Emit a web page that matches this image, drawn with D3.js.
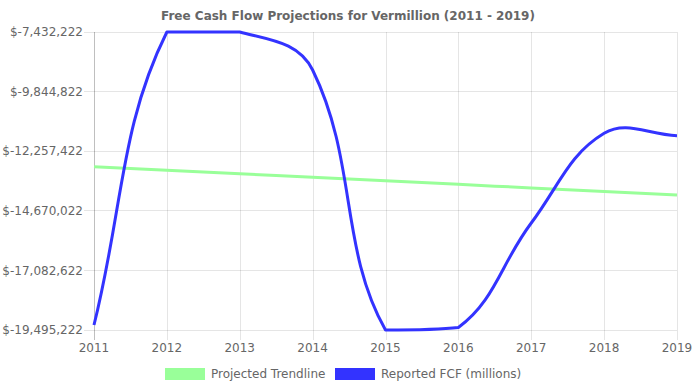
<!DOCTYPE html>
<html>
<head>
<meta charset="utf-8">
<script src="https://cdn.jsdelivr.net/npm/d3@7"></script>
<style>
  html, body { margin: 0; padding: 0; background: #fff; }
  svg { display: block; }
  text { font-family: "DejaVu Sans", sans-serif; }
</style>
</head>
<body>
<svg id="chart" width="696" height="390"></svg>
<script>
const years = ["2011","2012","2013","2014","2015","2016","2017","2018","2019"];
const reportedFCF = [-19292800, -7432222, -7432222, -8970500, -19495222, -19394000, -15164000, -11533000, -11630000];
const projectedTrend = [-12885000, -13028000, -13171000, -13314000, -13457000, -13600000, -13743000, -13886000, -14030000];
const yTicks = [-7432222, -9844822, -12257422, -14670022, -17082622, -19495222];
const titleText = "Free Cash Flow Projections for Vermillion (2011 - 2019)";
const seriesNames = ["Projected Trendline", "Reported FCF (millions)"];
const seriesColors = ["#99ff99", "#3333ff"];

const area = { left: 94, right: 677, top: 32, bottom: 330 };
const svg = d3.select("#chart");

const x = d3.scalePoint().domain(years).range([area.left, area.right]);
const y = d3.scaleLinear().domain([d3.min(yTicks), d3.max(yTicks)]).range([area.bottom, area.top]);

const locale = d3.formatLocale({ decimal: ".", thousands: ",", grouping: [3], currency: ["$", ""], minus: "-" });
const fmt = v => "$" + locale.format(",")(v);

// Chart.js-style spline with tension and capped control points
function splineCurve(t, a) {
  return function(context) {
    let pts;
    const cap = (px, py) => [Math.max(a.left, Math.min(a.right, px)), Math.max(a.top, Math.min(a.bottom, py))];
    return {
      areaStart() {}, areaEnd() {},
      lineStart() { pts = []; },
      point(px, py) { pts.push([+px, +py]); },
      lineEnd() {
        const n = pts.length;
        if (!n) return;
        const cps = pts.map((p, i) => {
          const prev = pts[i - 1] || p, next = pts[i + 1] || p;
          const d01 = Math.hypot(p[0] - prev[0], p[1] - prev[1]);
          const d12 = Math.hypot(next[0] - p[0], next[1] - p[1]);
          let s01 = d01 / (d01 + d12), s12 = d12 / (d01 + d12);
          if (isNaN(s01)) s01 = 0;
          if (isNaN(s12)) s12 = 0;
          const fa = t * s01, fb = t * s12;
          return {
            prev: cap(p[0] - fa * (next[0] - prev[0]), p[1] - fa * (next[1] - prev[1])),
            next: cap(p[0] + fb * (next[0] - prev[0]), p[1] + fb * (next[1] - prev[1]))
          };
        });
        context.moveTo(pts[0][0], pts[0][1]);
        for (let i = 1; i < n; i++) {
          context.bezierCurveTo(cps[i - 1].next[0], cps[i - 1].next[1], cps[i].prev[0], cps[i].prev[1], pts[i][0], pts[i][1]);
        }
      }
    };
  };
}

const crisp = v => Math.round(v) + 0.5;

// horizontal grid lines
const grid = svg.append("g");
yTicks.forEach(t => {
  grid.append("line")
    .attr("x1", area.left - 10).attr("x2", area.right)
    .attr("y1", crisp(y(t) - 0.5)).attr("y2", crisp(y(t) - 0.5))
    .attr("stroke", "rgba(0,0,0,0.1)").attr("stroke-width", 1);
});
// vertical grid lines
years.forEach((yr, i) => {
  grid.append("line")
    .attr("x1", crisp(x(yr))).attr("x2", crisp(x(yr)))
    .attr("y1", area.top).attr("y2", area.bottom + 10)
    .attr("stroke", i === 0 ? "rgba(0,0,0,0.25)" : "rgba(0,0,0,0.1)").attr("stroke-width", 1);
});

// y tick labels
svg.append("g").selectAll("text").data(yTicks).join("text")
  .attr("x", 83).attr("y", d => y(d))
  .attr("dy", "0.35em")
  .attr("text-anchor", "end")
  .attr("font-size", 12).attr("fill", "#666")
  .text(fmt);

// x tick labels
svg.append("g").selectAll("text").data(years).join("text")
  .attr("x", d => x(d)).attr("y", 348)
  .attr("dy", "0.35em")
  .attr("text-anchor", "middle")
  .attr("font-size", 12).attr("fill", "#666")
  .text(d => d);

// title
svg.append("text")
  .attr("x", 348).attr("y", 16).attr("dy", "0.35em")
  .attr("text-anchor", "middle")
  .attr("font-size", 12).attr("font-weight", "bold").attr("fill", "#666")
  .text(titleText);

// lines
const line = d3.line()
  .x((d, i) => x(years[i]))
  .y(d => y(d))
  .curve(splineCurve(0.4, area));

const seriesData = [projectedTrend, reportedFCF];
seriesData.forEach((s, k) => {
  svg.append("path")
    .attr("d", line(s))
    .attr("fill", "none")
    .attr("stroke", seriesColors[k])
    .attr("stroke-width", 3)
    .attr("stroke-linejoin", "round");
});

// legend
const legendItems = [
  { name: seriesNames[0], color: seriesColors[0], bx: 165, tx: 211 },
  { name: seriesNames[1], color: seriesColors[1], bx: 335, tx: 381 }
];
const lg = svg.append("g");
legendItems.forEach(it => {
  lg.append("rect").attr("x", it.bx).attr("y", 368).attr("width", 40).attr("height", 12)
    .attr("fill", it.color);
  lg.append("text").attr("x", it.tx).attr("y", 374).attr("dy", "0.35em")
    .attr("font-size", 12).attr("fill", "#666").text(it.name);
});
</script>
</body>
</html>
